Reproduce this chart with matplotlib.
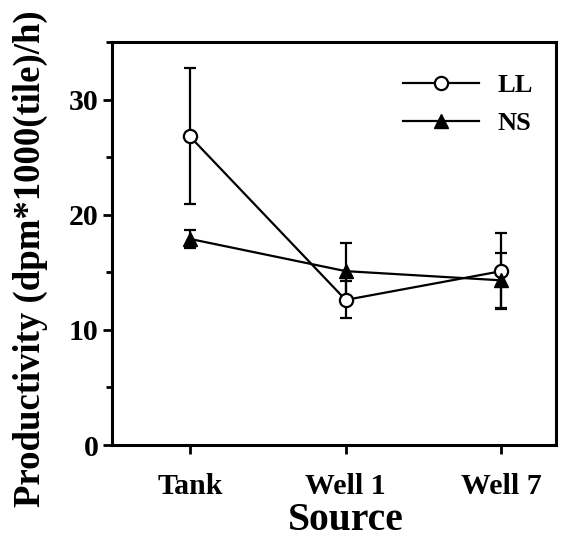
import matplotlib
matplotlib.use("Agg")
import matplotlib.pyplot as plt
from matplotlib.ticker import MultipleLocator
from matplotlib.lines import Line2D

categories = ["Tank", "Well 1", "Well 7"]
ll_mean = [26.8, 12.6, 15.1]
ll_err = [5.9, 1.6, 3.3]
ns_mean = [17.9, 15.1, 14.3]
ns_err = [0.8, 2.4, 2.4]

plt.rcParams['font.family'] = ['Liberation Serif', 'DejaVu Serif']
plt.rcParams['font.weight'] = 'bold'

fig = plt.figure(figsize=(5.72, 5.40), dpi=100)
ax = fig.add_axes([112/572, 1-445/540, (556-112)/572, (445-42)/540])

x = list(range(len(categories)))
ax.errorbar(x, ll_mean, yerr=ll_err, color='black', lw=1.6, marker='o', ms=9.5,
            mfc='white', mec='black', mew=1.6, capsize=4, capthick=1.6, elinewidth=1.6,
            label='LL', zorder=3)
ax.errorbar(x, ns_mean, yerr=ns_err, color='black', lw=1.6, marker='^', ms=9.5,
            mfc='black', mec='black', capsize=4, capthick=1.6, elinewidth=1.6,
            label='NS', zorder=3)

ax.set_xlim(-0.5, 2.35)
ax.set_ylim(0, 35)
ax.set_xticks(x)
ax.set_xticklabels(categories)
ax.yaxis.set_major_locator(MultipleLocator(10))
ax.yaxis.set_minor_locator(MultipleLocator(5))
for s in ax.spines.values():
    s.set_linewidth(2.2)
ax.tick_params(axis='both', which='major', direction='out', length=6.5, width=2, labelsize=21.5)
ax.tick_params(axis='y', which='minor', direction='out', length=4, width=2)
ax.tick_params(axis='x', pad=14)
ax.tick_params(axis='y', pad=3)
for lab in ax.get_xticklabels() + ax.get_yticklabels():
    lab.set_fontweight('bold')

ax.set_xlabel('Source', fontsize=28.5, fontweight='bold')
ax.xaxis.set_label_coords(0.527, -0.141)
ax.set_ylabel('Productivity (dpm*1000(tile)/h)', fontsize=26.5, fontweight='bold')
ax.yaxis.set_label_coords(-0.144, 0.463)

h = [Line2D([], [], color='black', lw=1.6, marker='o', ms=9.5, mfc='white', mec='black', mew=1.6),
     Line2D([], [], color='black', lw=1.6, marker='^', ms=9.5, mfc='black', mec='black')]
leg = ax.legend(h, ['LL', 'NS'], loc='upper right', frameon=False,
                prop={'weight': 'bold', 'size': 19}, handlelength=2.9, handletextpad=0.7,
                labelspacing=0.55, borderaxespad=0.8, bbox_to_anchor=(1.02, 1.0))

fig.savefig('out.png', dpi=100)
